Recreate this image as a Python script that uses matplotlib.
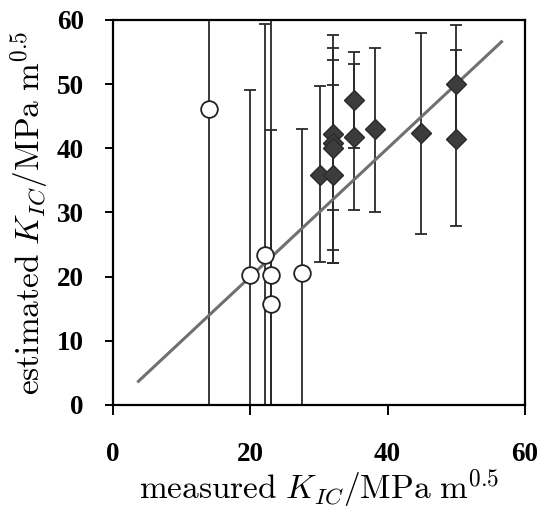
import numpy as np
import matplotlib.pyplot as plt

plt.rcParams['mathtext.fontset'] = 'cm'

# ---------- datos ----------
# circulos abiertos
circ_x = [14.0, 20.0, 22.2, 23.0, 23.0, 27.5]
circ_y = [46.2, 20.3, 23.3, 20.3, 15.8, 20.6]
circ_hi = [65.0, 49.1, 59.4, 65.0, 42.8, 43.0]
circ_lo = [-5.0, -5.0, -5.0, -5.0, -5.0, -5.0]

# rombos rellenos
diam_x = [30.1, 32.1, 32.1, 32.1, 32.1, 35.1, 35.1, 38.1, 44.9, 50.0, 50.0]
diam_y = [35.8, 42.3, 40.8, 40.0, 35.8, 47.5, 41.7, 43.0, 42.4, 50.1, 41.4]
diam_hi = [49.7, 57.6, 55.6, 53.8, 49.9, 55.0, 53.1, 55.6, 57.9, 59.2, 55.3]
diam_lo = [22.3, 24.2, 22.1, 30.4, 22.1, 40.0, 30.4, 30.1, 26.6, 41.0, 27.9]

# recta y = x
line_x = [3.7, 56.6]
line_y = [3.7, 56.6]

x_ticks = [0, 20, 40, 60]
y_ticks = [0, 10, 20, 30, 40, 50, 60]


def asym_err(y, lo, hi):
    y = np.array(y)
    return [y - np.array(lo), np.array(hi) - y]


fig = plt.figure(figsize=(5.49, 5.15), dpi=100)
ax = fig.add_axes([0.206, 0.2136, 0.750, 0.7476])

err_kw = dict(fmt='none', ecolor='#2a2a2a', elinewidth=1.3, capsize=4.5, capthick=1.3)
ax.errorbar(circ_x, circ_y, yerr=asym_err(circ_y, circ_lo, circ_hi), zorder=1, **err_kw)
ax.errorbar(diam_x, diam_y, yerr=asym_err(diam_y, diam_lo, diam_hi), zorder=1, **err_kw)

ax.plot(line_x, line_y, color='#707070', lw=2.2, zorder=2)

ax.plot(circ_x, circ_y, 'o', ms=12, mfc='white', mec='#222222', mew=1.3, zorder=3)
ax.plot(diam_x, diam_y, 'D', ms=10.5, mfc='#3c3c3c', mec='#2a2a2a', mew=1.0, zorder=4)

ax.set_xlim(0, 60)
ax.set_ylim(0, 60)
ax.set_xticks(x_ticks)
ax.set_yticks(y_ticks)

for s in ax.spines.values():
    s.set_linewidth(1.6)
    s.set_color('black')

ax.tick_params(axis='x', direction='out', length=7, width=1.4, pad=20)
ax.tick_params(axis='y', direction='out', length=6, width=1.4, pad=15)
for lab in ax.get_xticklabels() + ax.get_yticklabels():
    lab.set_fontfamily('Liberation Serif')
    lab.set_fontweight('bold')
    lab.set_fontsize(19.5)

ax.set_xlabel(r'$\mathrm{measured}\ K_{IC}/\mathrm{MPa\ m}^{0.5}$', fontsize=24, labelpad=0)
ax.set_ylabel(r'$\mathrm{estimated}\ K_{IC}/\mathrm{MPa\ m}^{0.5}$', fontsize=24, labelpad=4)

fig.savefig('out.png', dpi=100)
